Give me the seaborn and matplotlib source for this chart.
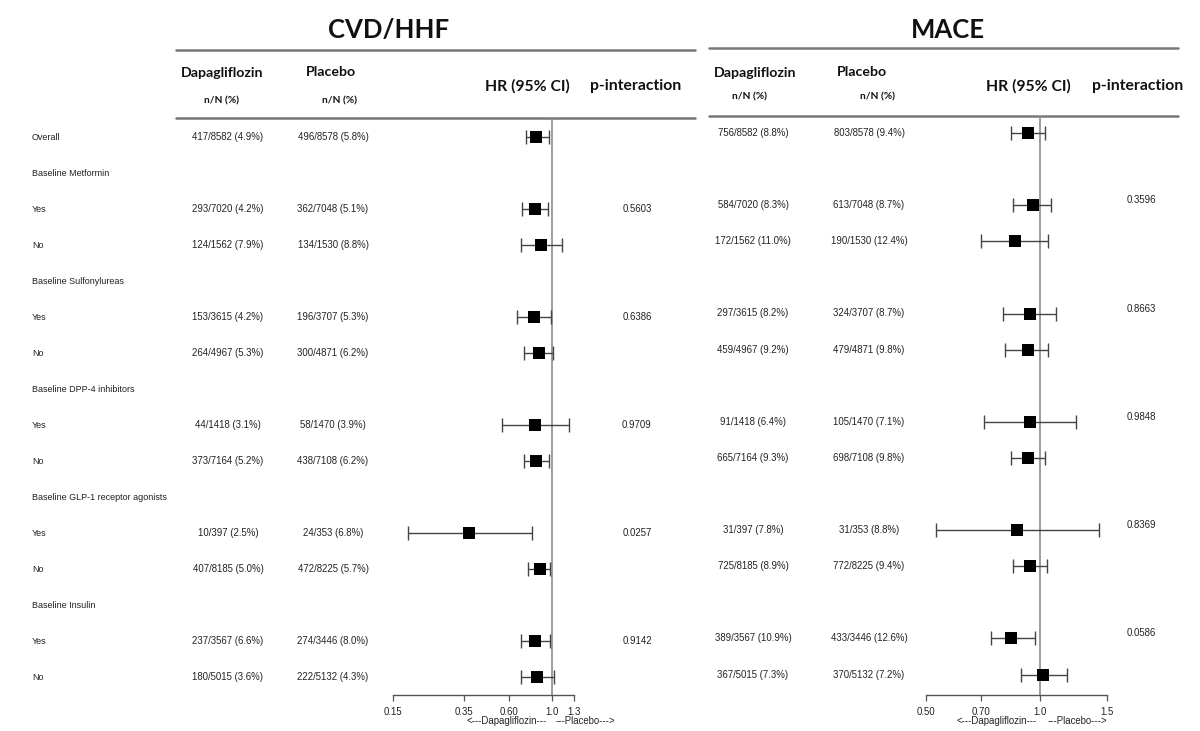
import numpy as np
import matplotlib
matplotlib.use("Agg")
import matplotlib.pyplot as plt
import matplotlib.ticker as mticker
import pandas as pd
import seaborn as sns

nan = np.nan

# ---- data ------------------------------------------------------------------
row_labels = [
    "Overall", "Baseline Metformin", "Yes", "No", "Baseline Sulfonylureas", "Yes", "No",
    "Baseline DPP-4 inhibitors", "Yes", "No", "Baseline GLP-1 receptor agonists", "Yes", "No",
    "Baseline Insulin", "Yes", "No",
]

cvd_dapa = ["417/8582 (4.9%)", "", "293/7020 (4.2%)", "124/1562 (7.9%)", "", "153/3615 (4.2%)",
            "264/4967 (5.3%)", "", "44/1418 (3.1%)", "373/7164 (5.2%)", "", "10/397 (2.5%)",
            "407/8185 (5.0%)", "", "237/3567 (6.6%)", "180/5015 (3.6%)"]
cvd_plac = ["496/8578 (5.8%)", "", "362/7048 (5.1%)", "134/1530 (8.8%)", "", "196/3707 (5.3%)",
            "300/4871 (6.2%)", "", "58/1470 (3.9%)", "438/7108 (6.2%)", "", "24/353 (6.8%)",
            "472/8225 (5.7%)", "", "274/3446 (8.0%)", "222/5132 (4.3%)"]
cvd_hr = [0.83, nan, 0.82, 0.88, nan, 0.81, 0.86, nan, 0.82, 0.83, nan, 0.37, 0.87, nan, 0.82, 0.84]
cvd_lo = [0.73, nan, 0.70, 0.69, nan, 0.66, 0.72, nan, 0.55, 0.72, nan, 0.18, 0.75, nan, 0.69, 0.69]
cvd_hi = [0.96, nan, 0.95, 1.13, nan, 0.99, 1.01, nan, 1.22, 0.96, nan, 0.79, 0.98, nan, 0.98, 1.02]
cvd_p = ["", "", "0.5603", "", "", "0.6386", "", "", "0.9709", "", "", "0.0257", "", "", "0.9142", ""]
cvd_ticks = [0.15, 0.35, 0.60, 1.0, 1.3]
cvd_ticklabels = ["0.15", "0.35", "0.60", "1.0", "1.3"]

mace_dapa = ["756/8582 (8.8%)", "", "584/7020 (8.3%)", "172/1562 (11.0%)", "", "297/3615 (8.2%)",
             "459/4967 (9.2%)", "", "91/1418 (6.4%)", "665/7164 (9.3%)", "", "31/397 (7.8%)",
             "725/8185 (8.9%)", "", "389/3567 (10.9%)", "367/5015 (7.3%)"]
mace_plac = ["803/8578 (9.4%)", "", "613/7048 (8.7%)", "190/1530 (12.4%)", "", "324/3707 (8.7%)",
             "479/4871 (9.8%)", "", "105/1470 (7.1%)", "698/7108 (9.8%)", "", "31/353 (8.8%)",
             "772/8225 (9.4%)", "", "433/3446 (12.6%)", "370/5132 (7.2%)"]
mace_hr = [0.93, nan, 0.96, 0.86, nan, 0.94, 0.93, nan, 0.94, 0.93, nan, 0.87, 0.94, nan, 0.84, 1.02]
mace_lo = [0.84, nan, 0.85, 0.70, nan, 0.80, 0.81, nan, 0.71, 0.84, nan, 0.53, 0.85, nan, 0.74, 0.89]
mace_hi = [1.03, nan, 1.07, 1.05, nan, 1.10, 1.05, nan, 1.24, 1.03, nan, 1.43, 1.04, nan, 0.97, 1.18]
mace_p = ["", "", "0.3596", "", "", "0.8663", "", "", "0.9848", "", "", "0.8369", "", "", "0.0586", ""]
mace_ticks = [0.50, 0.70, 1.0, 1.5]
mace_ticklabels = ["0.50", "0.70", "1.0", "1.5"]

# ---- styling ----------------------------------------------------------------
W, H = 1200, 731
INK = "#222222"
RULE = "#777777"
BODY = "Liberation Sans"
HEAD = "Lato"
BODY_SIZE = 6.9

sns.set_theme(style="white")
plt.rcParams["font.family"] = [BODY, "DejaVu Sans"]

fig = plt.figure(figsize=(W / 100, H / 100), dpi=100, facecolor="white")
bg = fig.add_axes([0, 0, 1, 1])
bg.set_xlim(0, W)
bg.set_ylim(H, 0)
bg.axis("off")


def head(x, y, s, size):
    bg.text(x, y, s, ha="center", va="center", fontsize=size, fontweight="bold",
            family=HEAD, color="#111111")


def forest_panel(title, cfg, dapa, plac, hr, lo, hi, pvals, ticks, ticklabels):
    y0, step = cfg["y0"], cfg["step"]
    rows = np.arange(len(row_labels))
    ypix = y0 + step * rows

    # title and header rules
    head(cfg["title_x"], 30, title, 18.5)
    bg.plot([cfg["line_x0"], cfg["line_x1"]], [cfg["rule_top"]] * 2, color=RULE, lw=1.8)
    bg.plot([cfg["line_x0"], cfg["line_x1"]], [cfg["rule_bot"]] * 2, color=RULE, lw=1.8)

    # column headers
    head(cfg["dapa_x"], 73, "Dapagliflozin", 10.2)
    head(cfg["dapa_sub_x"], cfg["sub_y"], "n/N (%)", 7.3)
    head(cfg["plac_x"], 72, "Placebo", 10.2)
    head(cfg["plac_sub_x"], cfg["sub_y"], "n/N (%)", 7.3)
    head(cfg["hr_x"], 86, "HR (95% CI)", 11.3)
    head(cfg["p_head_x"], 86, "p-interaction", 11.3)

    # table body
    for y, a, b, p in zip(ypix, dapa, plac, pvals):
        bg.text(cfg["dapa_col"], y, a, ha="center", va="center", fontsize=BODY_SIZE, color=INK)
        bg.text(cfg["plac_col"], y, b, ha="center", va="center", fontsize=BODY_SIZE, color=INK)
        bg.text(cfg["p_col"], y + cfg["p_dy"], p, ha="center", va="center",
                fontsize=BODY_SIZE, color=INK)

    # forest axes, placed so the rows line up with the table
    x0, x1 = cfg["ax_x0"], cfg["ax_x1"]
    ytop, ybot = cfg["rule_bot"], cfg["axis_y"]
    ax = fig.add_axes([x0 / W, 1 - ybot / H, (x1 - x0) / W, (ybot - ytop) / H])
    ax.patch.set_alpha(0)
    ax.set_xscale("log")
    ax.set_xlim(ticks[0], ticks[-1])
    ax.set_ylim((ybot - y0) / step, (ytop - y0) / step)

    df = pd.DataFrame({"row": rows, "hr": hr, "lo": lo, "hi": hi}).dropna()
    ax.axvline(1.0, color="#8c8c8c", lw=1.2, zorder=1)
    ax.errorbar(df["hr"], df["row"], xerr=[df["hr"] - df["lo"], df["hi"] - df["hr"]],
                fmt="none", ecolor="#444444", elinewidth=1.0, capsize=5, capthick=1.0, zorder=2)
    sns.scatterplot(data=df, x="hr", y="row", marker="s", s=72, color="black",
                    edgecolor="black", linewidth=0, zorder=3, ax=ax, legend=False)

    for side in ("top", "right", "left"):
        ax.spines[side].set_visible(False)
    ax.spines["bottom"].set_color("#555555")
    ax.spines["bottom"].set_linewidth(1.0)
    ax.set_yticks([])
    ax.xaxis.set_major_locator(mticker.FixedLocator(ticks))
    ax.xaxis.set_major_formatter(mticker.FixedFormatter(ticklabels))
    ax.xaxis.set_minor_locator(mticker.NullLocator())
    ax.tick_params(axis="x", bottom=True, direction="out", length=4.5, width=0.9,
                   color="#555555", labelsize=BODY_SIZE, labelcolor=INK, pad=4)
    ax.set_xlabel("")
    ax.set_ylabel("")

    bg.text(cfg["arrow_l"], 721, "<---Dapagliflozin---", ha="center", va="center",
            fontsize=BODY_SIZE, color=INK)
    bg.text(cfg["arrow_r"], 721, "---Placebo--->", ha="center", va="center",
            fontsize=BODY_SIZE, color=INK)
    return ax


# row labels on the far left
for i, lab in enumerate(row_labels):
    bg.text(32, 137 + 36 * i, lab, ha="left", va="center", fontsize=6.5, color=INK)

cvd_cfg = dict(y0=137, step=36, title_x=389, line_x0=176, line_x1=695, rule_top=50, rule_bot=118,
               dapa_x=222, dapa_sub_x=222, plac_x=331, plac_sub_x=340, sub_y=101, hr_x=527,
               p_head_x=636, dapa_col=228, plac_col=333, p_col=637, p_dy=0,
               ax_x0=393, ax_x1=574, axis_y=695, arrow_l=507, arrow_r=585)
mace_cfg = dict(y0=133, step=36.1, title_x=948, line_x0=709, line_x1=1178, rule_top=48, rule_bot=116,
                dapa_x=755, dapa_sub_x=750, plac_x=862, plac_sub_x=877, sub_y=97, hr_x=1028,
                p_head_x=1138, dapa_col=753, plac_col=869, p_col=1141, p_dy=-5,
                ax_x0=926, ax_x1=1107, axis_y=695, arrow_l=997, arrow_r=1077)

forest_panel("CVD/HHF", cvd_cfg, cvd_dapa, cvd_plac, cvd_hr, cvd_lo, cvd_hi, cvd_p,
             cvd_ticks, cvd_ticklabels)
forest_panel("MACE", mace_cfg, mace_dapa, mace_plac, mace_hr, mace_lo, mace_hi, mace_p,
             mace_ticks, mace_ticklabels)

fig.savefig("out.png", dpi=100, facecolor="white")
